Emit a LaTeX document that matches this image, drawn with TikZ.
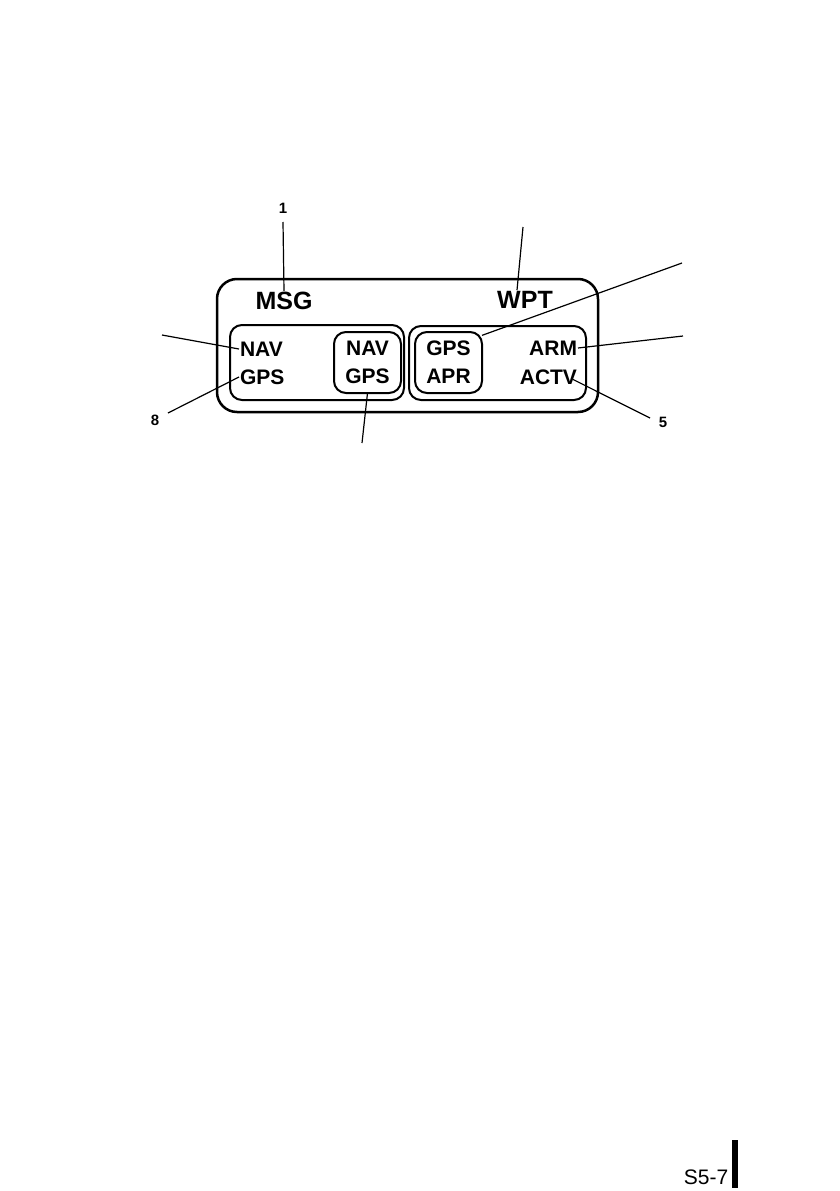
\documentclass[tikz,border=0pt]{standalone}
\usepackage{fontspec}
\setmainfont{Liberation Sans}
\tikzset{
  lamp/.style={font=\bfseries\fontsize{21}{28}\selectfont,inner sep=1pt,outer sep=0pt},
  legend/.style={font=\fontsize{25}{28}\selectfont\bfseries,inner sep=1pt},
  callnum/.style={font=\bfseries\fontsize{15}{17}\selectfont,inner sep=1pt},
  panel/.style={draw,line width=2pt,rounded corners=12pt,outer sep=0pt,inner sep=0pt},
  leader/.style={line width=1.2pt}
}
\begin{document}
\begin{tikzpicture}[x=1pt,y=-1pt]
\useasboundingbox (0,0) rectangle (839,1191);
% annunciator frame
\draw[line width=2.5pt,rounded corners=20pt] (217,279) rectangle (598,412);
\node[panel,minimum width=174pt,minimum height=75pt] (navpanel) at (317,362.5) {};
\node[panel,minimum width=177pt,minimum height=74pt] (wptpanel) at (497.5,363) {};
\node[panel,lamp,align=center,minimum width=67pt,minimum height=61pt] (navgps) at (367.5,362.5) {NAV\\GPS};
\node[panel,lamp,align=center,minimum width=67pt,minimum height=61pt] (gpsapr) at (448.5,362.5) {GPS\\APR};
% lamp texts
\node[legend] (msg) at (284,301) {MSG};
\node[legend] (wpt) at (525,300) {WPT};
\node[lamp,anchor=west] (nav) at (239,349) {NAV};
\node[lamp,anchor=west] (gps) at (239,377) {GPS};
\node[lamp,anchor=east] (arm) at (578,348) {ARM};
\node[lamp,anchor=east] (actv) at (578,377) {ACTV};
% callouts
\node[callnum] (n1) at (283,208) {1};
\node[callnum] (n8) at (155,420) {8};
\node[callnum] (n5) at (663,422) {5};
\coordinate (e1) at (283,222);
\coordinate (e2) at (523,227);
\coordinate (e3) at (682,263);
\coordinate (e4) at (683,336);
\coordinate (e5) at (650,418);
\coordinate (e6) at (162,335);
\coordinate (e7) at (168,413);
\coordinate (e8) at (362,443);
\draw[leader] (e1) -- (msg.north);
\draw[leader] (e2) -- ([xshift=-8pt]wpt.north);
\draw[leader] (e3) -- (gpsapr.39);
\draw[leader] (e4) -- (arm.east);
\draw[leader] (e5) -- ([xshift=-5pt,yshift=6pt]actv.south east);
\draw[leader] (e6) -- (nav.west);
\draw[leader] (e7) -- (gps.west);
\draw[leader] (e8) -- (navgps.south);
% page number
\node[font=\fontsize{21}{24}\selectfont,inner sep=0pt] (pageno) at (706,1177) {S5-7};
\draw[line width=6pt] (735,1140) -- (735,1188);
\end{tikzpicture}
\end{document}
